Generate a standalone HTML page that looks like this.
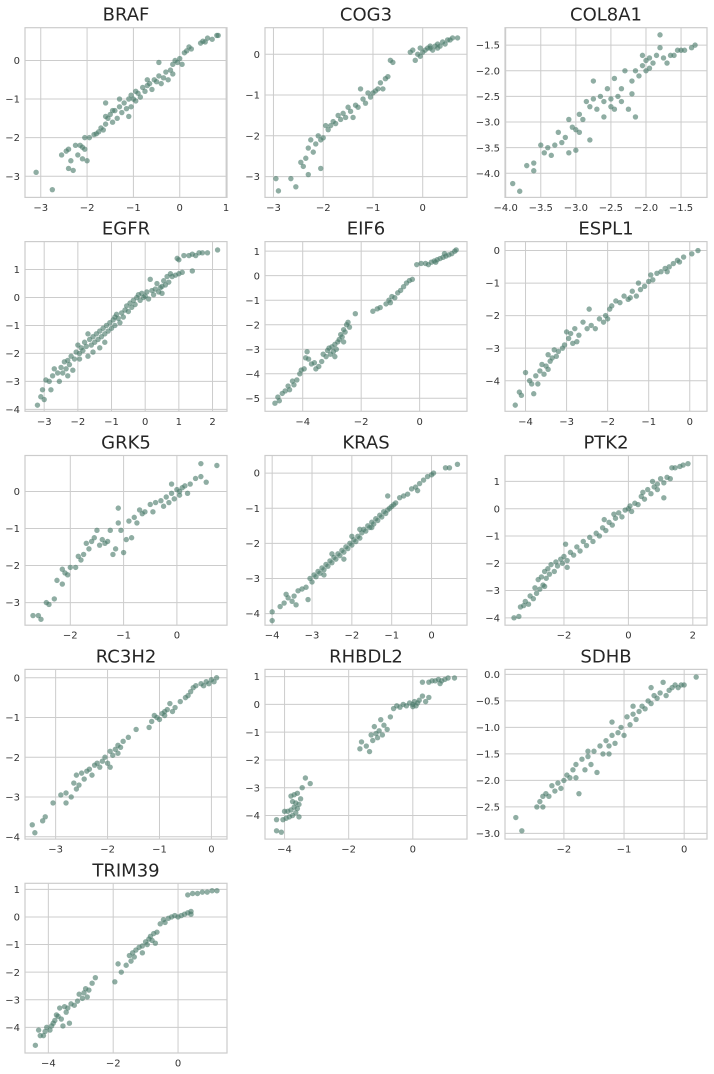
<!DOCTYPE html>
<html><head><meta charset="utf-8"><style>
html,body{margin:0;padding:0;background:#fff;}
svg{display:block;font-family:"DejaVu Sans","Liberation Sans",sans-serif;}
</style></head><body>
<svg id="fig" width="714" height="1074" viewBox="0 0 714 1074" xmlns="http://www.w3.org/2000/svg"></svg>
<script>
const titles = ["BRAF","COG3","COL8A1","EGFR","EIF6","ESPL1","GRK5","KRAS","PTK2","RC3H2","RHBDL2","SDHB","TRIM39"];
const xLims = [[-3.34,1.02],[-3.17,0.89],[-4.01,-1.13],[-3.57,2.43],[-5.29,1.62],[-4.5,0.42],[-2.85,0.94],[-4.18,0.89],[-3.83,2.44],[-3.59,0.30],[-4.61,1.69],[-2.98,0.38],[-4.72,1.51]];
const yLims = [[-3.55,0.85],[-3.51,0.65],[-4.47,-1.16],[-4.07,2.0],[-5.53,1.39],[-4.94,0.275],[-3.61,0.97],[-4.33,0.50],[-4.27,1.95],[-4.06,0.21],[-4.85,1.26],[-3.107,0.094],[-4.93,1.22]];
const xTicks = [[-3,-2,-1,0,1],[-3,-2,-1,0],[-4,-3.5,-3,-2.5,-2,-1.5],[-3,-2,-1,0,1,2],[-4,-2,0],[-4,-3,-2,-1,0],[-2,-1,0],[-4,-3,-2,-1,0],[-2,0,2],[-3,-2,-1,0],[-4,-2,0],[-2,-1,0],[-4,-2,0]];
const yTicks = [[-3,-2,-1,0],[-3,-2,-1,0],[-4,-3.5,-3,-2.5,-2,-1.5],[-4,-3,-2,-1,0,1],[-5,-4,-3,-2,-1,0,1],[-4,-3,-2,-1,0],[-3,-2,-1,0],[-4,-3,-2,-1,0],[-4,-3,-2,-1,0,1],[-4,-3,-2,-1,0],[-4,-3,-2,-1,0,1],[-3,-2.5,-2,-1.5,-1,-0.5,0],[-4,-3,-2,-1,0,1]];
const xDec = [0,0,1,0,0,0,0,0,0,0,0,0,0];
const yDec = [0,0,1,0,0,0,0,0,0,0,0,1,0];

const brafPts = [[-3.1,-2.9],[-2.75,-3.35],[-2.55,-2.45],[-2.45,-2.35],[-2.4,-2.3],[-2.4,-2.8],[-2.35,-2.6],[-2.3,-2.85],[-2.25,-2.2],[-2.2,-2.45],[-2.15,-2.2],[-2.1,-2.25],[-2.1,-2.55],[-2.05,-2.3],[-2,-2.6],[-2.05,-2.0],[-1.95,-2.0],[-1.85,-1.92],[-1.8,-1.9],[-1.75,-1.85],[-1.7,-1.75],[-1.65,-1.8],[-1.6,-1.65],[-1.6,-1.45],[-1.55,-1.5],[-1.5,-1.4],[-1.45,-1.6],[-1.4,-1.3],[-1.35,-1.5],[-1.3,-1.2],[-1.25,-1.35],[-1.2,-1.1],[-1.15,-1.25],[-1.1,-1.45],[-1.1,-1.0],[-1.05,-0.9],[-1.0,-1.0],[-0.95,-0.8],[-0.9,-0.85],[-0.85,-0.95],[-0.8,-0.7],[-0.75,-0.8],[-0.7,-0.65],[-0.65,-0.6],[-0.6,-0.75],[-0.55,-0.5],[-0.5,-0.55],[-0.45,-0.05],[-0.45,-0.4],[-0.4,-0.6],[-0.35,-0.45],[-0.3,-0.3],[-0.25,-0.5],[-0.2,-0.25],[-0.15,-0.35],[-0.15,-0.1],[-0.1,0.0],[-0.05,-0.05],[0,0.05],[0.05,-0.1],[0.1,0.2],[0.15,0.25],[0.2,0.35],[0.25,0.3],[0.45,0.45],[0.5,0.5],[0.55,0.48],[0.6,0.58],[0.7,0.55],[0.8,0.65],[0.83,0.65],[-1.3,-1.0],[-1.6,-1.1],[-1.45,-1.3],[-0.95,-1.05],[-1.05,-1.2],[-0.7,-0.5]];
const cog3Pts = [[-2.95,-3.05],[-2.9,-3.35],[-2.65,-3.05],[-2.55,-3.25],[-2.45,-2.65],[-2.4,-2.75],[-2.35,-2.55],[-2.3,-2.3],[-2.3,-2.95],[-2.25,-2.1],[-2.2,-2.4],[-2.15,-2.2],[-2.1,-2.0],[-2.05,-2.1],[-2.05,-2.8],[-2.0,-2.05],[-1.95,-1.75],[-1.9,-1.85],[-1.85,-1.75],[-1.8,-1.65],[-1.75,-1.7],[-1.7,-1.5],[-1.65,-1.6],[-1.6,-1.45],[-1.55,-1.55],[-1.5,-1.3],[-1.45,-1.4],[-1.4,-1.55],[-1.35,-1.25],[-1.3,-1.3],[-1.25,-0.85],[-1.2,-1.1],[-1.15,-1.2],[-1.1,-0.95],[-1.05,-1.05],[-1.0,-0.95],[-0.95,-0.9],[-0.9,-0.85],[-0.85,-0.7],[-0.8,-0.85],[-0.75,-0.6],[-0.7,-0.55],[-0.65,-0.15],[-0.6,-0.2],[-0.25,0.05],[-0.2,0.1],[-0.15,-0.15],[-0.1,0.0],[-0.05,0.15],[0,0.05],[0.05,0.1],[0.1,0.15],[0.15,0.2],[0.2,0.1],[0.25,0.2],[0.3,0.25],[0.35,0.2],[0.4,0.3],[0.45,0.25],[0.5,0.35],[0.55,0.35],[0.6,0.4],[0.7,0.4],[-0.05,-0.05],[0.15,0.15],[0.3,0.15]];
const col8a1Pts = [[-3.9,-4.2],[-3.8,-4.35],[-3.7,-3.85],[-3.6,-3.8],[-3.6,-3.95],[-3.5,-3.45],[-3.45,-3.6],[-3.4,-3.5],[-3.35,-3.65],[-3.3,-3.45],[-3.25,-3.2],[-3.2,-3.4],[-3.15,-3.3],[-3.1,-3.6],[-3.1,-2.95],[-3.05,-3.1],[-3.0,-3.15],[-3.0,-3.55],[-2.95,-2.85],[-2.95,-3.2],[-2.9,-2.95],[-2.85,-2.6],[-2.8,-2.7],[-2.8,-3.35],[-2.75,-2.2],[-2.75,-2.55],[-2.7,-2.75],[-2.65,-2.5],[-2.6,-2.6],[-2.6,-2.9],[-2.55,-2.35],[-2.5,-2.55],[-2.5,-2.7],[-2.45,-2.15],[-2.45,-2.75],[-2.4,-2.5],[-2.35,-2.6],[-2.35,-2.35],[-2.3,-2.0],[-2.25,-2.75],[-2.2,-2.2],[-2.2,-2.45],[-2.15,-2.9],[-2.15,-2.0],[-2.1,-2.1],[-2.05,-1.9],[-2.0,-1.8],[-2.0,-2.0],[-1.95,-1.75],[-1.9,-1.85],[-1.85,-1.7],[-1.8,-1.3],[-1.8,-1.55],[-1.75,-1.75],[-1.7,-1.85],[-1.65,-1.7],[-1.6,-1.7],[-1.55,-1.6],[-1.5,-1.6],[-1.45,-1.6],[-1.35,-1.55],[-1.3,-1.5],[-1.95,-1.95],[-2.05,-1.7]];
const egfrPts = [[-3.2,-3.85],[-3.1,-3.55],[-3.0,-3.65],[-3.05,-3.3],[-2.95,-2.95],[-2.85,-3.0],[-2.8,-3.3],[-2.75,-2.8],[-2.7,-2.55],[-2.6,-2.7],[-2.55,-3.0],[-2.5,-2.5],[-2.45,-2.7],[-2.4,-2.3],[-2.35,-2.55],[-2.3,-2.25],[-2.25,-2.4],[-2.2,-2.1],[-2.15,-2.6],[-2.1,-2.2],[-2.05,-1.95],[-2.0,-1.7],[-1.95,-2.0],[-1.9,-1.8],[-1.85,-1.9],[-1.8,-1.6],[-1.75,-1.75],[-1.7,-2.1],[-1.65,-1.5],[-1.6,-1.7],[-1.55,-1.4],[-1.5,-1.6],[-1.45,-1.3],[-1.4,-1.5],[-1.35,-1.2],[-1.3,-1.4],[-1.25,-1.1],[-1.2,-1.3],[-1.15,-1.0],[-1.1,-1.2],[-1.05,-0.9],[-1.0,-1.1],[-0.95,-0.8],[-0.9,-1.0],[-0.85,-0.6],[-0.8,-0.75],[-0.75,-0.9],[-0.7,-0.55],[-0.65,-0.7],[-0.6,-0.45],[-0.55,-0.3],[-0.5,-0.5],[-0.45,-0.2],[-0.4,-0.35],[-0.35,-0.1],[-0.3,-0.25],[-0.25,0.0],[-0.2,0.1],[-0.15,-0.1],[-0.1,0.15],[-0.05,0.0],[0,0.05],[0.05,0.2],[0.1,-0.05],[0.15,0.65],[0.2,0.25],[0.25,0.1],[0.3,0.3],[0.35,0.5],[0.4,0.2],[0.45,0.35],[0.5,0.4],[0.55,0.6],[0.6,0.45],[0.65,0.75],[0.7,0.55],[0.8,0.75],[0.9,0.8],[1.0,0.85],[1.1,0.9],[1.4,0.95],[0.95,1.4],[1.0,1.35],[1.15,1.5],[1.3,1.5],[1.4,1.55],[1.5,1.5],[1.6,1.6],[1.7,1.6],[1.85,1.6],[2.15,1.7],[-1.2,-1.6],[-1.55,-1.95],[-2.3,-2.8],[-1.35,-1.8],[-0.9,-0.7],[-1.7,-1.3],[-1.95,-2.2],[0.5,0.15],[0.75,0.85]];
const eif6Pts = [[-4.95,-5.2],[-4.85,-4.95],[-4.8,-5.1],[-4.7,-4.8],[-4.6,-4.7],[-4.5,-4.5],[-4.45,-4.65],[-4.35,-4.3],[-4.3,-4.45],[-4.2,-4.25],[-4.1,-4.0],[-4.05,-3.85],[-3.95,-3.8],[-3.9,-3.35],[-3.85,-3.1],[-3.8,-3.4],[-3.7,-3.6],[-3.6,-3.55],[-3.55,-3.8],[-3.45,-3.7],[-3.35,-3.5],[-3.3,-3.2],[-3.2,-3.3],[-3.15,-3.05],[-3.1,-2.95],[-3.05,-3.2],[-3.0,-2.9],[-2.95,-3.1],[-2.9,-2.8],[-2.85,-3.0],[-2.8,-2.7],[-2.75,-2.6],[-2.7,-2.4],[-2.65,-2.5],[-2.6,-2.2],[-2.55,-2.3],[-2.5,-2.0],[-2.45,-1.9],[-2.4,-2.1],[-2.2,-1.55],[-1.6,-1.45],[-1.45,-1.35],[-1.35,-1.3],[-1.15,-1.15],[-1.05,-1.0],[-0.95,-0.85],[-0.85,-0.9],[-0.75,-0.7],[-0.65,-0.6],[-0.55,-0.45],[-0.45,-0.3],[-0.35,-0.2],[-0.25,-0.15],[-0.1,0.45],[0.05,0.5],[0.2,0.5],[0.3,0.45],[0.4,0.55],[0.5,0.6],[0.6,0.65],[0.7,0.7],[0.8,0.75],[0.9,0.8],[1.0,0.85],[1.1,0.9],[1.2,1.0],[1.25,1.05],[0.55,0.55],[0.85,0.9],[-2.6,-2.7],[-2.9,-3.3],[-1.0,-1.1]];
const espl1Pts = [[-4.25,-4.75],[-4.15,-4.35],[-4.1,-4.45],[-4.0,-3.75],[-3.9,-4.0],[-3.85,-4.1],[-3.8,-4.4],[-3.75,-3.85],[-3.7,-4.1],[-3.65,-3.7],[-3.6,-3.5],[-3.55,-3.8],[-3.5,-3.55],[-3.45,-3.65],[-3.4,-3.4],[-3.35,-3.3],[-3.3,-3.05],[-3.25,-3.25],[-3.2,-3.1],[-3.1,-3.0],[-3.05,-2.9],[-3.0,-2.5],[-2.95,-2.7],[-2.9,-2.55],[-2.85,-2.85],[-2.8,-2.4],[-2.7,-2.6],[-2.6,-2.2],[-2.5,-2.4],[-2.45,-1.8],[-2.4,-2.3],[-2.3,-2.4],[-2.2,-2.1],[-2.1,-2.2],[-2.05,-2.0],[-2.0,-2.1],[-1.95,-1.8],[-1.9,-1.7],[-1.8,-1.55],[-1.7,-1.6],[-1.6,-1.4],[-1.5,-1.5],[-1.4,-1.25],[-1.3,-1.4],[-1.25,-1.0],[-1.2,-1.2],[-1.1,-1.1],[-1.0,-0.95],[-0.95,-0.75],[-0.9,-0.9],[-0.8,-0.7],[-0.7,-0.65],[-0.6,-0.55],[-0.55,-0.65],[-0.5,-0.5],[-0.4,-0.4],[-0.3,-0.3],[-0.25,-0.35],[-0.15,-0.2],[0.05,-0.1],[0.2,0.0],[-1.45,-1.45],[-2.75,-2.8],[-3.45,-3.2]];
const grk5Pts = [[-2.7,-3.35],[-2.6,-3.35],[-2.55,-3.45],[-2.45,-3.0],[-2.4,-3.05],[-2.3,-2.9],[-2.25,-2.4],[-2.15,-2.5],[-2.15,-2.1],[-2.1,-2.2],[-2.05,-2.25],[-2.0,-2.05],[-1.9,-2.05],[-1.85,-1.75],[-1.8,-1.85],[-1.75,-1.7],[-1.7,-1.4],[-1.65,-1.55],[-1.6,-1.35],[-1.55,-1.25],[-1.5,-1.05],[-1.45,-1.45],[-1.4,-1.3],[-1.35,-1.4],[-1.3,-1.35],[-1.25,-1.05],[-1.2,-1.7],[-1.15,-1.55],[-1.1,-0.45],[-1.1,-0.85],[-1.05,-1.05],[-1.0,-1.65],[-0.95,-1.3],[-0.9,-0.8],[-0.85,-1.25],[-0.8,-0.7],[-0.75,-0.85],[-0.7,-0.5],[-0.65,-0.6],[-0.6,-0.55],[-0.5,-0.35],[-0.45,-0.55],[-0.4,-0.3],[-0.3,-0.25],[-0.25,-0.4],[-0.2,-0.15],[-0.15,-0.3],[-0.1,-0.05],[-0.05,-0.2],[0,0.05],[0.05,0.0],[0.1,0.1],[0.15,0.15],[0.2,-0.05],[0.25,0.2],[0.35,0.35],[0.45,0.4],[0.45,0.75],[0.55,0.25],[0.75,0.7],[-0.1,0.2],[0.05,-0.1]];
const krasPts = [[-4.0,-4.2],[-4.0,-3.95],[-3.8,-3.8],[-3.7,-3.7],[-3.65,-3.45],[-3.6,-3.55],[-3.5,-3.65],[-3.45,-3.5],[-3.4,-3.75],[-3.35,-3.35],[-3.25,-3.3],[-3.15,-3.25],[-3.1,-3.6],[-3.05,-3.0],[-3.0,-3.1],[-2.95,-2.9],[-2.9,-2.95],[-2.85,-2.8],[-2.8,-2.85],[-2.75,-2.7],[-2.7,-2.75],[-2.65,-2.6],[-2.6,-2.65],[-2.55,-2.5],[-2.5,-2.55],[-2.45,-2.4],[-2.4,-2.45],[-2.35,-2.3],[-2.3,-2.35],[-2.25,-2.2],[-2.2,-2.25],[-2.15,-2.1],[-2.1,-2.15],[-2.05,-2.0],[-2.0,-2.05],[-1.95,-1.9],[-1.9,-1.95],[-1.85,-1.8],[-1.8,-1.85],[-1.75,-1.7],[-1.7,-1.6],[-1.65,-1.65],[-1.6,-1.5],[-1.55,-1.55],[-1.5,-1.4],[-1.45,-1.45],[-1.4,-1.3],[-1.35,-1.35],[-1.3,-1.2],[-1.25,-1.25],[-1.2,-1.1],[-1.15,-1.15],[-1.1,-1.05],[-1.05,-1.0],[-1.0,-0.95],[-0.95,-0.9],[-1.1,-0.65],[-0.9,-0.85],[-0.8,-0.7],[-0.7,-0.65],[-0.6,-0.6],[-0.5,-0.45],[-0.4,-0.4],[-0.35,-0.5],[-0.3,-0.3],[-0.2,-0.2],[-0.1,-0.1],[0,-0.05],[0.05,0.0],[0.35,0.15],[0.45,0.15],[0.65,0.25],[-2.5,-2.3],[-2.0,-1.8],[-1.5,-1.55],[-2.7,-2.9],[-2.2,-2.45],[-1.8,-1.6]];
const ptk2Pts = [[-3.55,-4.0],[-3.4,-3.95],[-3.35,-3.6],[-3.25,-3.55],[-3.2,-3.4],[-3.1,-3.5],[-3.05,-3.2],[-2.95,-3.3],[-2.9,-2.9],[-2.85,-3.1],[-2.8,-2.6],[-2.75,-2.95],[-2.7,-2.5],[-2.65,-2.8],[-2.6,-2.3],[-2.55,-2.55],[-2.5,-2.2],[-2.45,-2.4],[-2.4,-2.05],[-2.3,-2.3],[-2.25,-1.95],[-2.2,-2.1],[-2.1,-1.85],[-2.05,-2.0],[-2.0,-1.75],[-1.95,-1.3],[-1.9,-1.9],[-1.8,-1.6],[-1.7,-1.7],[-1.6,-1.4],[-1.5,-1.55],[-1.4,-1.2],[-1.3,-1.35],[-1.2,-1.05],[-1.1,-1.2],[-1.0,-0.9],[-0.9,-1.0],[-0.8,-0.7],[-0.75,-0.4],[-0.7,-0.8],[-0.6,-0.5],[-0.5,-0.6],[-0.45,-0.2],[-0.4,-0.35],[-0.3,-0.15],[-0.2,-0.3],[-0.1,-0.05],[0,0.0],[0.05,0.1],[0.1,-0.1],[0.2,0.2],[0.3,0.15],[0.4,0.45],[0.45,0.6],[0.5,0.35],[0.6,0.7],[0.7,0.55],[0.75,1.0],[0.8,0.8],[0.9,0.9],[1.0,1.1],[1.1,0.95],[1.2,1.15],[1.3,1.1],[1.35,1.5],[1.45,1.5],[1.6,1.55],[1.7,1.6],[1.85,1.65],[1.1,0.4],[0.9,0.7],[-1.9,-2.15],[-2.6,-2.85]];
const rc3h2Pts = [[-3.45,-3.7],[-3.4,-3.9],[-3.25,-3.6],[-3.2,-3.5],[-3.05,-3.15],[-2.9,-2.95],[-2.8,-2.9],[-2.8,-3.15],[-2.7,-3.0],[-2.65,-2.65],[-2.6,-2.8],[-2.55,-2.7],[-2.5,-2.4],[-2.45,-2.55],[-2.4,-2.35],[-2.35,-2.3],[-2.3,-2.45],[-2.25,-2.2],[-2.2,-2.15],[-2.15,-2.25],[-2.1,-2.1],[-2.05,-2.0],[-2.0,-2.15],[-1.95,-1.85],[-1.9,-1.95],[-1.85,-1.8],[-1.8,-1.7],[-1.75,-1.75],[-1.7,-1.6],[-1.6,-1.5],[-1.45,-1.3],[-1.2,-1.25],[-1.15,-1.1],[-1.1,-0.95],[-1.05,-1.0],[-1.0,-1.05],[-0.95,-0.9],[-0.9,-0.85],[-0.85,-0.8],[-0.8,-0.65],[-0.75,-0.85],[-0.7,-0.75],[-0.6,-0.6],[-0.5,-0.5],[-0.45,-0.45],[-0.4,-0.35],[-0.35,-0.25],[-0.3,-0.2],[-0.2,-0.15],[-0.15,-0.2],[-0.1,-0.1],[-0.05,-0.15],[0,-0.05],[0.05,-0.1],[0.1,0.0],[-2.6,-2.45],[-1.95,-2.25],[-1.8,-1.9],[-0.9,-0.95]];
const rhbdl2Pts = [[-4.25,-4.15],[-4.25,-4.55],[-4.1,-4.6],[-4.05,-4.15],[-4.0,-3.85],[-3.95,-4.1],[-3.9,-3.85],[-3.85,-4.05],[-3.8,-3.3],[-3.8,-3.8],[-3.75,-4.0],[-3.75,-3.5],[-3.7,-3.7],[-3.7,-3.25],[-3.65,-3.9],[-3.65,-3.55],[-3.6,-3.75],[-3.6,-3.2],[-3.55,-4.05],[-3.55,-3.6],[-3.5,-3.4],[-3.45,-3.0],[-3.35,-2.65],[-3.2,-2.85],[-1.65,-1.6],[-1.6,-1.35],[-1.45,-1.5],[-1.35,-1.7],[-1.3,-1.1],[-1.25,-1.3],[-1.2,-0.8],[-1.15,-1.05],[-1.1,-1.2],[-1.05,-0.95],[-1.0,-0.55],[-0.95,-1.1],[-0.9,-0.75],[-0.8,-0.9],[-0.6,-0.15],[-0.5,-0.05],[-0.4,-0.1],[-0.3,0.0],[-0.2,-0.05],[-0.1,0.05],[0,0.0],[0.05,0.1],[0.1,-0.05],[0.15,0.05],[0.2,0.15],[0.3,0.3],[0.4,0.1],[0.5,0.25],[0.3,0.8],[0.5,0.8],[0.6,0.85],[0.7,0.85],[0.8,0.9],[0.9,0.85],[1.0,0.9],[1.1,0.95],[1.3,0.95],[0.85,0.75],[-0.7,-0.45],[0.0,-0.08]];
const sdhbPts = [[-2.8,-2.7],[-2.7,-2.95],[-2.45,-2.5],[-2.4,-2.4],[-2.35,-2.5],[-2.35,-2.3],[-2.3,-2.25],[-2.25,-2.3],[-2.2,-2.1],[-2.15,-2.2],[-2.1,-2.05],[-2.05,-2.15],[-2.0,-2.0],[-1.95,-1.9],[-1.9,-1.95],[-1.85,-1.8],[-1.8,-1.7],[-1.8,-1.95],[-1.75,-2.25],[-1.7,-1.6],[-1.65,-1.8],[-1.6,-1.55],[-1.55,-1.7],[-1.5,-1.45],[-1.45,-1.85],[-1.4,-1.35],[-1.35,-1.5],[-1.3,-1.25],[-1.25,-1.35],[-1.2,-0.9],[-1.2,-1.15],[-1.15,-1.3],[-1.1,-1.1],[-1.05,-1.0],[-1.0,-1.15],[-0.95,-0.8],[-0.9,-0.95],[-0.85,-0.75],[-0.8,-0.85],[-0.75,-0.7],[-0.7,-0.6],[-0.65,-0.65],[-0.6,-0.5],[-0.55,-0.55],[-0.5,-0.4],[-0.45,-0.45],[-0.4,-0.35],[-0.35,-0.15],[-0.3,-0.4],[-0.25,-0.3],[-0.2,-0.25],[-0.15,-0.2],[-0.1,-0.25],[-0.05,-0.2],[0,-0.2],[0.2,-0.05],[-0.55,-0.25],[-0.85,-0.6],[-1.25,-1.5],[-1.6,-1.45]];
const trim39Pts = [[-4.4,-4.65],[-4.3,-4.1],[-4.25,-4.3],[-4.15,-4.3],[-4.1,-4.15],[-4.05,-4.0],[-3.95,-4.1],[-3.9,-3.95],[-3.85,-3.85],[-3.8,-3.75],[-3.75,-3.55],[-3.7,-3.6],[-3.65,-3.3],[-3.6,-3.7],[-3.55,-3.95],[-3.5,-3.25],[-3.45,-3.45],[-3.4,-3.3],[-3.35,-3.85],[-3.3,-3.15],[-3.2,-3.2],[-3.1,-3.05],[-3.05,-2.8],[-2.95,-2.95],[-2.9,-2.75],[-2.85,-2.6],[-2.8,-2.9],[-2.75,-2.65],[-2.65,-2.4],[-2.55,-2.2],[-1.95,-2.35],[-1.85,-1.7],[-1.75,-2.0],[-1.6,-1.75],[-1.5,-1.4],[-1.45,-1.6],[-1.4,-1.3],[-1.35,-1.45],[-1.3,-1.2],[-1.2,-1.1],[-1.1,-1.05],[-1.0,-0.9],[-0.95,-1.0],[-0.9,-0.8],[-0.85,-0.7],[-0.8,-0.85],[-0.75,-0.6],[-0.65,-0.55],[-0.55,-0.25],[-0.45,-0.1],[-0.4,-0.2],[-0.3,-0.05],[-0.2,0.0],[-0.1,0.05],[0,0.0],[0.1,0.05],[0.2,0.1],[0.3,0.15],[0.4,0.2],[0.4,0.1],[0.3,0.8],[0.45,0.85],[0.6,0.85],[0.75,0.9],[0.9,0.9],[1.05,0.95],[1.2,0.95],[-1.1,-1.3],[-0.7,-0.95]];
const allPts = [brafPts,cog3Pts,col8a1Pts,egfrPts,eif6Pts,espl1Pts,grk5Pts,krasPts,ptk2Pts,rc3h2Pts,rhbdl2Pts,sdhbPts,trim39Pts];

const NS = "http://www.w3.org/2000/svg";
const fig = document.getElementById("fig");
function mk(tag, attrs, parent) {
  const e = document.createElementNS(NS, tag);
  for (const k in attrs) e.setAttribute(k, attrs[k]);
  parent.appendChild(e);
  return e;
}
function fmt(v, d) {
  const s = d ? Math.abs(v).toFixed(1) : String(Math.abs(v));
  return (v < 0 ? "\u2212" : "") + s;
}
const colX = [25, 265, 505], W = 202;
const rowY0 = 27.7, rowPitch = 213.9, H = 169.7;

titles.forEach((t, i) => {
  const col = i % 3, row = Math.floor(i / 3);
  const L = colX[col], T = rowY0 + row * rowPitch, R = L + W, B = T + H;
  const xl = xLims[i], yl = yLims[i];
  const sx = v => L + (v - xl[0]) / (xl[1] - xl[0]) * W;
  const sy = v => B - (v - yl[0]) / (yl[1] - yl[0]) * H;
  const g = mk("g", {}, fig);
  
  
  const bg = mk("rect", {x: L, y: T, width: W, height: H, fill: "#fff"}, g);
  
  
  xTicks[i].forEach(v => {
    const x = sx(v);
    const gl = mk("line", {x1: x, x2: x, y1: T, y2: B, stroke: "#cccccc", "stroke-width": 1}, g);
    
    
    const tl = mk("text", {x: x, y: B + 13.5, "text-anchor": "middle", "font-size": "10px", fill: "#333"}, g);
    tl.textContent = fmt(v, xDec[i]);
    
    
  });
  yTicks[i].forEach(v => {
    const y = sy(v);
    const gl = mk("line", {x1: L, x2: R, y1: y, y2: y, stroke: "#cccccc", "stroke-width": 1}, g);
    
    
    const tl = mk("text", {x: L - 5, y: y + 3.6, "text-anchor": "end", "font-size": "10px", fill: "#333"}, g);
    tl.textContent = fmt(v, yDec[i]);
    
    
  });
  const frame = mk("rect", {x: L, y: T, width: W, height: H, fill: "none", stroke: "#cccccc", "stroke-width": 1.2}, g);
  
  
  allPts[i].forEach(p => {
    const c = mk("circle", {cx: sx(p[0]), cy: sy(p[1]), r: 2.7, fill: "#4a7a6a", "fill-opacity": 0.62}, g);
    
    
  });
  const tt = mk("text", {x: L + W / 2, y: T - 7, "text-anchor": "middle", "font-size": "18px", fill: "#262626"}, g);
  tt.textContent = t;
  
  
});
</script>
</body></html>
